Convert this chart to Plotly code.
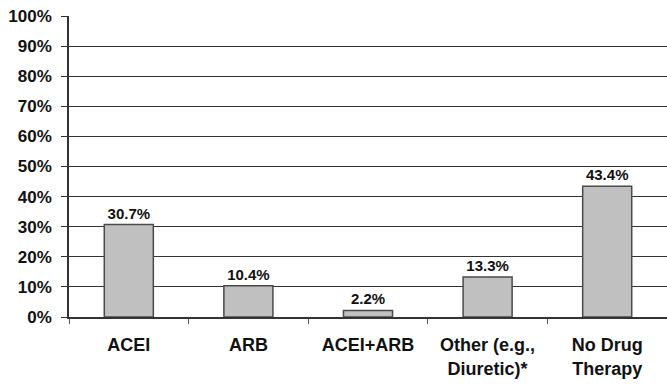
import plotly.graph_objects as go

categories = ["ACEI", "ARB", "ACEI+ARB", "Other (e.g.,<br>Diuretic)*", "No Drug<br>Therapy"]
percent = [30.7, 10.4, 2.2, 13.3, 43.4]
y_ticks = list(range(0, 101, 10))
y_tick_labels = [f"{v}%" for v in y_ticks]

fig = go.Figure(
    go.Bar(
        x=categories,
        y=percent,
        width=0.41,
        marker=dict(color="#c0c0c0", line=dict(color="#4a4a4a", width=1.5)),
        text=[f"{v:.1f}%" for v in percent],
        textposition="outside",
        textfont=dict(family="Liberation Sans", size=15, color="#111", weight="bold"),
        cliponaxis=False,
    )
)

fig.update_layout(
    width=667,
    height=386,
    margin=dict(l=69, r=0, t=16, b=69),
    paper_bgcolor="white",
    plot_bgcolor="white",
    showlegend=False,
    font=dict(family="Liberation Sans", color="#111"),
)

fig.update_yaxes(
    range=[0, 100],
    tickvals=y_ticks,
    ticktext=y_tick_labels,
    tickfont=dict(size=17, weight="bold"),
    ticks="outside",
    ticklen=6,
    tickcolor="#333",
    showgrid=True,
    gridcolor="#333",
    gridwidth=1.4,
    showline=True,
    linecolor="#333",
    linewidth=1.5,
    zeroline=False,
    ticklabelstandoff=6,
)

fig.update_xaxes(
    tickfont=dict(size=18, weight="bold"),
    ticks="outside",
    tickson="boundaries",
    ticklen=5,
    tickcolor="#555",
    showline=True,
    linecolor="#333",
    linewidth=1.5,
    ticklabelstandoff=11,
)

fig.write_html("out.html")
